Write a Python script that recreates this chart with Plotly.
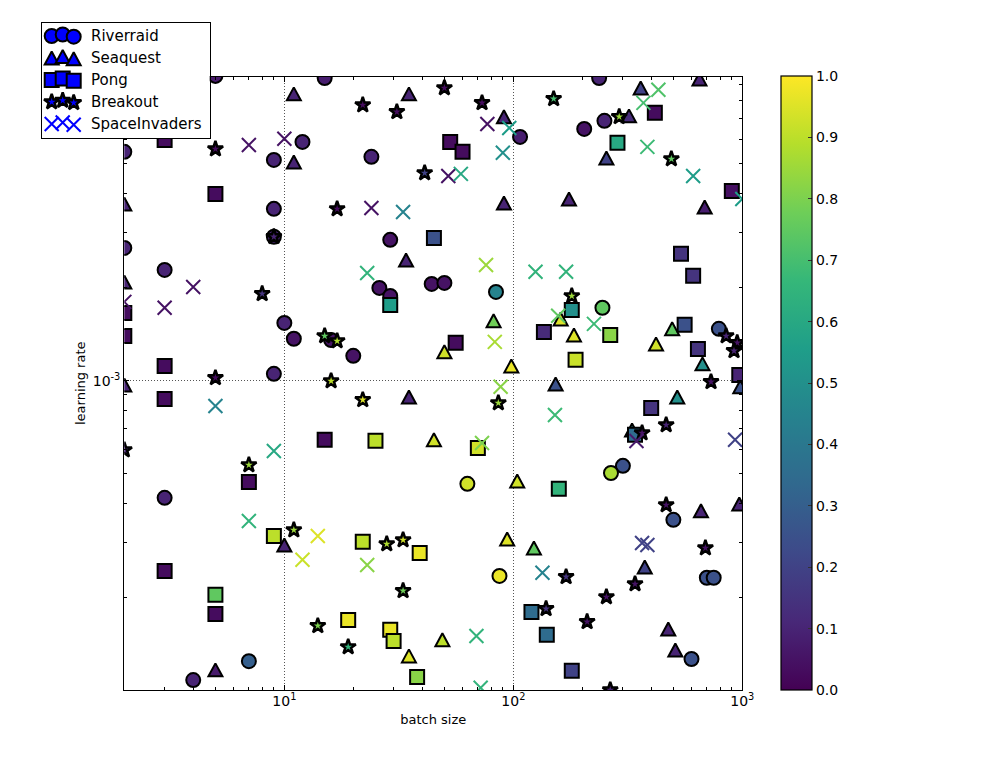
"""batch size / learning rate random search scatter."""

import plotly.graph_objects as go

# batch size, log10(learning rate), score (0-1) per game
riverraid_batch = [5, 15, 237, 2, 9, 12, 24, 9, 9, 2, 3, 29, 26, 29, 44, 50, 84, 245, 10, 11, 16, 20, 9, 3,
                   63, 301, 267, 107, 204, 250, 500, 700, 750, 600, 790, 87, 7, 4]
riverraid_lr = [-2.017, -2.024, -2.024, -2.262, -2.288, -2.230, -2.278, -2.446, -2.536, -2.572, -2.643, -2.546,
                -2.701, -2.727, -2.688, -2.685, -2.714, -2.765, -2.814, -2.865, -2.869, -2.920, -2.978, -3.378,
                -3.333, -3.275, -3.298, -2.214, -2.188, -2.162, -3.449, -3.636, -3.636, -3.898, -2.833, -3.630,
                -3.905, -3.966]
riverraid_score = [.07, .08, .1, .1, .1, .1, .1, .1, .1, .1, .1, .05, .05, .05, .05, .05, .45, .75, .1, .05, .05,
                   .05, .1, .1, .93, .25, .87, .08, .05, .1, .25, .25, .25, .25, .25, .97, .3, .1]

seaquest_batch = [11, 35, 91, 360, 320, 255, 11, 2, 91, 175, 685, 34, 650, 2, 82, 50, 161, 184, 420, 494, 670, 98,
                  153, 35, 2, 520, 980, 330, 45, 104, 660, 970, 10, 94, 123, 375, 475, 510, 49, 35, 5]
seaquest_lr = [-2.075, -2.075, -2.149, -2.056, -2.146, -2.282, -2.295, -2.430, -2.427, -2.414, -2.440, -2.611,
               -2.027, -2.682, -2.807, -2.907, -2.801, -2.853, -2.882, -2.833, -2.946, -2.953, -3.011, -3.053,
               -3.014, -3.053, -3.020, -3.159, -3.191, -3.324, -3.420, -3.398, -3.530, -3.511, -3.540, -3.601,
               -3.801, -3.869, -3.836, -3.888, -3.933]
seaquest_score = [.1, .1, .1, .2, .12, .2, .1, .1, .1, .1, .08, .1, .1, .1, .78, .93, .95, .95, .93, .75, .5, .97,
                  .25, .1, .1, .5, .25, .45, .93, .93, .1, .1, .1, .95, .75, .2, .1, .1, .9, .95, .07]

pong_batch = [3, 53, 60, 415, 285, 5, 900, 45, 540, 610, 29, 180, 136, 265, 560, 640, 2, 2, 56, 187, 3, 3, 970,
              400, 340, 15, 25, 70, 158, 7, 9, 22, 39, 3, 5, 5, 19, 29, 30, 38, 120, 140, 180]
pong_lr = [-2.224, -2.230, -2.262, -2.136, -2.233, -2.398, -2.388, -2.540, -2.591, -2.662, -2.756, -2.772, -2.843,
           -2.853, -2.820, -2.898, -2.782, -2.856, -2.878, -2.933, -2.953, -3.059, -2.982, -3.088, -3.175, -3.191,
           -3.194, -3.217, -3.349, -3.327, -3.501, -3.520, -3.556, -3.614, -3.691, -3.753, -3.772, -3.804, -3.840,
           -3.956, -3.746, -3.820, -3.936]
pong_score = [.03, .03, .03, .03, .6, .03, .04, .25, .15, .15, .55, .5, .12, .82, .25, .15, .03, .03, .03, .92,
              .03, .03, .1, .15, .35, .03, .9, .93, .65, .03, .9, .9, .97, .03, .75, .03, .97, .97, .9, .82, .35,
              .35, .2]

breakout_batch = [22, 31, 50, 73, 150, 290, 5, 41, 490, 17, 9, 8, 180, 15, 17, 5, 16, 22, 2, 7, 86, 850, 950, 920,
                  730, 465, 365, 465, 690, 11, 28, 33, 33, 14, 19, 170, 139, 340, 255, 210, 265]
breakout_lr = [-2.111, -2.133, -2.056, -2.104, -2.091, -2.149, -2.253, -2.330, -2.285, -2.446, -2.536, -2.720,
               -2.727, -2.856, -2.872, -2.991, -3.001, -3.062, -3.224, -3.272, -3.072, -2.856, -2.878, -2.904,
               -3.004, -3.143, -3.169, -3.401, -3.540, -3.482, -3.527, -3.514, -3.678, -3.791, -3.859, -3.633,
               -3.736, -3.656, -3.698, -3.778, -3.998]
breakout_score = [.03, .03, .03, .03, .7, .85, .03, .2, .75, .03, .1, .15, .85, .75, .88, .03, .9, .95, .1, .85,
                  .85, .1, .05, .1, .05, .1, .05, .05, .05, .85, .88, .93, .78, .8, .65, .15, .15, .05, .05, .05,
                  .1]

invaders_batch = [430, 370, 385, 610, 1000, 77, 96, 90, 52, 59, 24, 33, 7, 10, 4, 3, 2, 23, 76, 125, 170, 157, 225,
                  83, 88, 152, 73, 345, 930, 5, 9, 7, 14, 12, 23, 365, 385, 134, 69, 72]
invaders_lr = [-2.062, -2.104, -2.246, -2.340, -2.414, -2.172, -2.185, -2.265, -2.340, -2.333, -2.443, -2.456,
               -2.240, -2.220, -2.698, -2.765, -2.746, -2.653, -2.627, -2.649, -2.649, -2.791, -2.817, -2.875,
               -3.020, -3.111, -3.201, -3.195, -3.191, -3.082, -3.227, -3.453, -3.501, -3.578, -3.595, -3.524,
               -3.530, -3.620, -3.824, -3.991]
invaders_score = [.72, .7, .68, .55, .55, .05, .55, .5, .05, .6, .05, .45, .05, .05, .05, .05, .05, .65, .85, .65,
                  .65, .75, .68, .87, .82, .68, .8, .07, .2, .45, .6, .65, .95, .92, .82, .2, .2, .45, .65, .65]

game_names = ["Riverraid", "Seaquest", "Pong", "Breakout", "SpaceInvaders"]
game_symbols = ["circle", "triangle-up", "square", "star", "x-thin"]
game_sizes = [14, 13, 14, 11.5, 14]
game_lines = [2, 2, 2, 2.5, 2]

FONT = "DejaVu Sans"
W, H = 981, 751  # page adds 8px body margin
R = 20  # right margin, keeps the colorbar from pushing the plot area
PW = W - R

# plotly's triangle is flat, matplotlib's is as tall as wide
TRIANGLE_FIX = """
var gd = document.getElementById('{plot_id}');
function fixTriangles() {
  gd.querySelectorAll('path.point').forEach(function (p) {
    if (/^M-[\\d.]+,[\\d.]+H[\\d.]+L0,-[\\d.]+Z$/.test(p.getAttribute('d'))) {
      p.setAttribute('d', 'M-7,6.5H7L0,-6.5Z');
    }
  });
}
fixTriangles();
gd.on('plotly_afterplot', fixTriangles);
"""


def px_x(p):
    return (p - 8) / PW


def px_y(p):
    return 1 - (p - 8) / H


def game_trace(batch, lr, score, i):
    """One game, coloured through the shared colour axis."""
    if game_symbols[i] == "x-thin":
        marker = dict(symbol="x-thin", size=game_sizes[i],
                      line=dict(color=score, coloraxis="coloraxis", width=game_lines[i]))
    else:
        marker = dict(symbol=game_symbols[i], size=game_sizes[i], color=score, coloraxis="coloraxis",
                      line=dict(color="black", width=game_lines[i]))
    return go.Scatter(x=batch, y=[10 ** e for e in lr], mode="markers", name=game_names[i],
                      marker=marker, showlegend=False, xaxis="x", yaxis="y")


fig = go.Figure()
fig.add_trace(game_trace(riverraid_batch, riverraid_lr, riverraid_score, 0))
fig.add_trace(game_trace(seaquest_batch, seaquest_lr, seaquest_score, 1))
fig.add_trace(game_trace(pong_batch, pong_lr, pong_score, 2))
fig.add_trace(game_trace(breakout_batch, breakout_lr, breakout_score, 3))
fig.add_trace(game_trace(invaders_batch, invaders_lr, invaders_score, 4))

# matplotlib style legend with three glyphs per entry, in its own small axes
glyph_x = [10, 21, 32]
glyph_dy = [0, -1.5, 0.7]
for i, name in enumerate(game_names):
    row = 13 + 22 * i
    line = dict(color="blue", width=2) if game_symbols[i] == "x-thin" else dict(color="black", width=game_lines[i])
    fig.add_trace(go.Scatter(
        x=glyph_x, y=[row + d for d in glyph_dy], mode="markers", cliponaxis=False, showlegend=False,
        marker=dict(symbol=game_symbols[i], size=game_sizes[i], color="blue", line=line),
        xaxis="x2", yaxis="y2", hoverinfo="skip",
    ))
    fig.add_annotation(x=47.5, y=row - 0.5, xref="x2", yref="y2", text=name, showarrow=False, xanchor="left",
                       font=dict(family=FONT, size=15, color="black"))

minor_x = [m * 10 ** k for k in (0, 1, 2) for m in range(2, 10) if m * 10 ** k != 2]
minor_y = [m * 10.0 ** k for k in (-4, -3) for m in range(2, 10)]

fig.update_layout(
    width=W, height=H, autosize=False,
    margin=dict(l=0, r=R, t=0, b=0),
    paper_bgcolor="white", plot_bgcolor="white",
    font=dict(family=FONT, size=13, color="black"),
    showlegend=False,
    xaxis=dict(
        type="log", range=[0.301, 3], domain=[px_x(124.3), px_x(742.3)],
        title=dict(text="batch size", font=dict(size=13), standoff=6),
        tickvals=[10, 100, 1000], ticktext=["10<sup>1</sup>", "10<sup>2</sup>", "10<sup>3</sup>"],
        ticks="inside", ticklen=5, tickcolor="black", tickfont=dict(size=14), ticklabelstandoff=-2,
        showline=True, linecolor="black", linewidth=1.3, mirror="ticks", zeroline=False,
        showgrid=True, gridcolor="#555555", griddash="1px,2px", gridwidth=1,
        minor=dict(tickvals=minor_x, ticks="inside", ticklen=3, tickcolor="black", showgrid=False),
    ),
    yaxis=dict(
        type="log", range=[-3.998, -2.019], domain=[px_y(690), px_y(76.5)],
        title=dict(text="learning rate", font=dict(size=13), standoff=4),
        tickvals=[0.001], ticktext=["10<sup>-3</sup>"],
        ticks="inside", ticklen=5, tickcolor="black", tickfont=dict(size=14),
        showline=True, linecolor="black", linewidth=1.3, mirror="ticks", zeroline=False,
        showgrid=True, gridcolor="#555555", griddash="1px,2px", gridwidth=1,
        minor=dict(tickvals=minor_y, ticks="inside", ticklen=3, tickcolor="black", showgrid=False),
    ),
    xaxis2=dict(
        domain=[px_x(41.7), px_x(209.7)], range=[0, 168], anchor="y2", visible=True,
        showticklabels=False, ticks="", showgrid=False, zeroline=False,
        showline=True, linecolor="black", linewidth=1.3, mirror=True,
    ),
    yaxis2=dict(
        domain=[px_y(138), px_y(23)], range=[115, 0], anchor="x2", visible=True,
        showticklabels=False, ticks="", showgrid=False, zeroline=False,
        showline=True, linecolor="black", linewidth=1.3, mirror=True,
    ),
    coloraxis=dict(
        cmin=0, cmax=1, colorscale="Viridis",
        colorbar=dict(
            x=px_x(781), xanchor="left", xpad=0, thickness=31, thicknessmode="pixels",
            y=px_y(690), yanchor="bottom", ypad=0, len=(690 - 76.5) / H, lenmode="fraction",
            tickvals=[0, .1, .2, .3, .4, .5, .6, .7, .8, .9, 1], tickformat=".1f",
            ticks="inside", ticklen=4, tickcolor="#333333", tickfont=dict(size=14),
            outlinecolor="black", outlinewidth=1.2,
        ),
    ),
)

fig.write_html("out.html", post_script=TRIANGLE_FIX)
